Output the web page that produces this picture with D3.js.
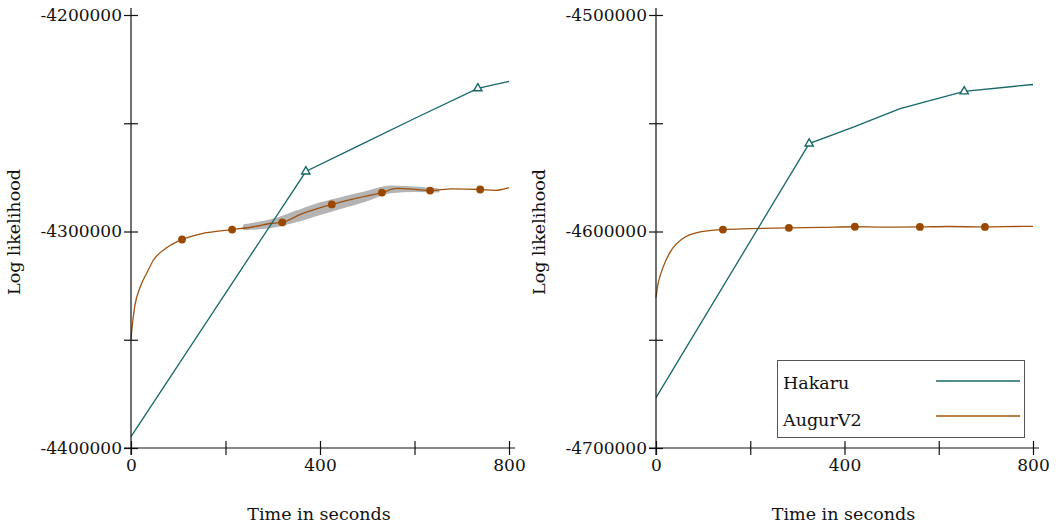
<!DOCTYPE html>
<html>
<head>
<meta charset="utf-8">
<script src="https://cdn.jsdelivr.net/npm/d3@7"></script>
<style>
  body { margin: 0; background: #fff; }
  text { font-family: "DejaVu Serif", serif; fill: #111; }
</style>
</head>
<body>
<svg id="chart" width="1061" height="529"></svg>
<script>
// left panel
const hakaruT1 = [0, 370, 480, 600, 734, 800];
const hakaruV1 = [-4394700, -4272300, -4260600, -4247800, -4233900, -4230700];
const hakaruMarks1 = [370, 734];

const augurT1 = [0, 2, 8, 19, 34, 47, 76, 108, 152, 214, 260, 294, 320, 360, 425, 470, 531, 563, 600, 633, 680, 739, 770, 800];
const augurV1 = [-4350000, -4345000, -4334500, -4325900, -4318900, -4313400, -4307400, -4303700, -4300900, -4299100,
                 -4297800, -4296300, -4295800, -4292000, -4287500, -4285000, -4282000, -4280100, -4280500, -4281100,
                 -4280300, -4280600, -4281000, -4279700];
const augurMarks1 = [108, 214, 320, 425, 531, 633, 739];

const bandT1 = [240, 300, 350, 400, 450, 500, 550, 600, 650];
const bandLo1 = [-4298700, -4297600, -4295000, -4291700, -4288500, -4285200, -4281600, -4281100, -4281300];
const bandHi1 = [-4297300, -4294800, -4291000, -4287300, -4284500, -4281800, -4279400, -4279900, -4280700];

// right panel
const hakaruT2 = [0, 325, 420, 518, 654, 800];
const hakaruV2 = [-4676700, -4559400, -4551700, -4543200, -4535300, -4532100];
const hakaruMarks2 = [325, 654];

const augurT2 = [0, 4, 8, 15, 30, 57, 87, 142, 200, 282, 350, 422, 480, 560, 620, 698, 760, 800];
const augurV2 = [-4630500, -4624500, -4621000, -4616500, -4609500, -4603200, -4600500, -4599100, -4598700, -4598300,
                 -4598100, -4597800, -4598000, -4597900, -4597700, -4597900, -4597700, -4597600];
const augurMarks2 = [142, 282, 422, 560, 698];

const xTicks = [0, 200, 400, 600, 800];
const xLabels = ["0", "", "400", "", "800"];
const yTicks1 = [-4400000, -4350000, -4300000, -4250000, -4200000];
const yLabels1 = ["-4400000", "", "-4300000", "", "-4200000"];
const yTicks2 = [-4700000, -4650000, -4600000, -4550000, -4500000];
const yLabels2 = ["-4700000", "", "-4600000", "", "-4500000"];

const seriesNames = ["Hakaru", "AugurV2"];
const teal = "#17676a";
const brown = "#a2520e";
const markBrown = "#9a4800";

const svg = d3.select("#chart");

function drawPanel(p) {
    const x = d3.scaleLinear().domain([0, 800]).range([p.left, p.right]);
    const y = d3.scaleLinear().domain([p.yTicks[0], p.yTicks[4]]).range([448, 15]);
    const g = svg.append("g");

    // band
    if (p.bandT) {
        const area = d3.area()
            .x((d, i) => x(p.bandT[i]))
            .y0((d, i) => y(p.bandLo[i]))
            .y1((d, i) => y(p.bandHi[i]))
            .curve(d3.curveMonotoneX);
        g.append("path")
            .datum(p.bandT)
            .attr("d", area)
            .attr("fill", "#b4b4b4")
            .attr("stroke", "#b4b4b4")
            .attr("stroke-width", 3)
            .attr("stroke-linejoin", "round");
    }

    const line = d3.line().x(d => x(d[0])).y(d => y(d[1]));
    const smooth = d3.line().x(d => x(d[0])).y(d => y(d[1])).curve(d3.curveMonotoneX);

    const hk = d3.zip(p.hT, p.hV);
    const ag = d3.zip(p.aT, p.aV);

    g.append("path").datum(ag).attr("d", smooth)
        .attr("fill", "none").attr("stroke", brown).attr("stroke-width", 1.3);
    g.append("path").datum(hk).attr("d", line)
        .attr("fill", "none").attr("stroke", teal).attr("stroke-width", 1.3);

    g.selectAll(".dot").data(p.aMarks).enter().append("circle")
        .attr("cx", t => x(t))
        .attr("cy", t => y(p.aV[p.aT.indexOf(t)]))
        .attr("r", 3.9)
        .attr("fill", markBrown);

    g.selectAll(".tri").data(p.hMarks).enter().append("path")
        .attr("d", d3.symbol().type(d3.symbolTriangle).size(30))
        .attr("transform", t => `translate(${x(t)},${y(p.hV[p.hT.indexOf(t)])})`)
        .attr("fill", "#fff")
        .attr("stroke", teal)
        .attr("stroke-width", 1.4);

    // axes
    const yAxis = d3.axisLeft(y).tickValues(p.yTicks)
        .tickFormat((d, i) => p.yLabels[i])
        .tickSizeInner(7).tickSizeOuter(0).tickPadding(2);
    const ya = g.append("g").attr("transform", `translate(${p.left},0)`).call(yAxis);
    ya.select(".domain").remove();
    ya.selectAll(".tick line").attr("x1", -7).attr("x2", 7).attr("stroke", "#111").attr("stroke-width", 1.2);
    ya.selectAll(".tick text").style("font-family", "DejaVu Serif").style("font-size", "17px").attr("fill", "#111");
    ya.append("line").attr("x1", 0).attr("x2", 0).attr("y1", 8).attr("y2", 455)
        .attr("stroke", "#111").attr("stroke-width", 1.2);

    const xAxis = d3.axisBottom(x).tickValues(xTicks)
        .tickFormat((d, i) => xLabels[i])
        .tickSizeInner(7).tickSizeOuter(0).tickPadding(4);
    const xa = g.append("g").attr("transform", "translate(0,448)").call(xAxis);
    xa.select(".domain").remove();
    xa.selectAll(".tick line").attr("y1", -7).attr("y2", 7).attr("stroke", "#111").attr("stroke-width", 1.2);
    xa.selectAll(".tick text").style("font-family", "DejaVu Serif").style("font-size", "17px").attr("fill", "#111");
    xa.append("line").attr("x1", p.left - 7).attr("x2", p.right + 6).attr("y1", 0).attr("y2", 0)
        .attr("stroke", "#111").attr("stroke-width", 1.2);

    g.append("text")
        .attr("x", (p.left + p.right) / 2 - 1)
        .attr("y", 520)
        .attr("text-anchor", "middle")
        .style("font-size", "17.5px")
        .text("Time in seconds");

    g.append("text")
        .attr("transform", `translate(${p.left - 111},232) rotate(-90)`)
        .attr("text-anchor", "middle")
        .style("font-size", "17.5px")
        .text("Log likelihood");
}

drawPanel({
    left: 131, right: 509,
    yTicks: yTicks1, yLabels: yLabels1,
    hT: hakaruT1, hV: hakaruV1, hMarks: hakaruMarks1,
    aT: augurT1, aV: augurV1, aMarks: augurMarks1,
    bandT: bandT1, bandLo: bandLo1, bandHi: bandHi1
});

drawPanel({
    left: 656, right: 1033,
    yTicks: yTicks2, yLabels: yLabels2,
    hT: hakaruT2, hV: hakaruV2, hMarks: hakaruMarks2,
    aT: augurT2, aV: augurV2, aMarks: augurMarks2
});

// legend
const legend = svg.append("g");
legend.append("rect")
    .attr("x", 777.5).attr("y", 360.5).attr("width", 247).attr("height", 77)
    .attr("fill", "#fff").attr("stroke", "#555").attr("stroke-width", 1);
const legendColors = [teal, brown];
seriesNames.forEach((name, i) => {
    legend.append("text")
        .attr("x", 783).attr("y", 389 + i * 37)
        .style("font-size", "17.5px")
        .text(name);
    legend.append("line")
        .attr("x1", 936).attr("x2", 1020)
        .attr("y1", 381 + i * 35).attr("y2", 381 + i * 35)
        .attr("stroke", legendColors[i]).attr("stroke-width", 1.3);
});
</script>
</body>
</html>
